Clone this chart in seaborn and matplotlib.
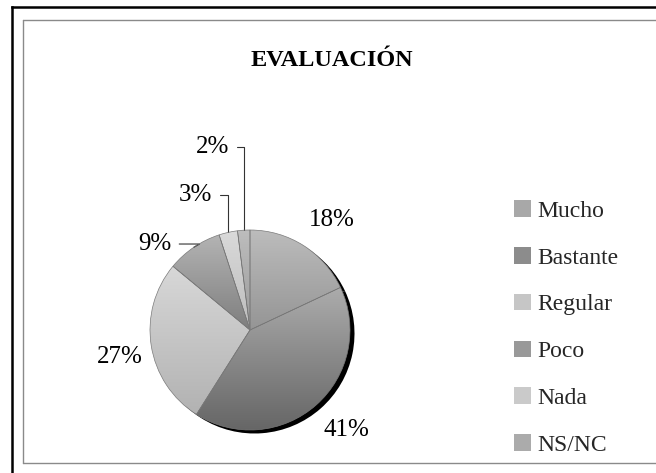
import numpy as np
import matplotlib
matplotlib.use("Agg")
import matplotlib.pyplot as plt
import seaborn as sns
from matplotlib.colors import LinearSegmentedColormap
from matplotlib.patches import Patch
from matplotlib.lines import Line2D

# ---- data ----
title = "EVALUACIÓN"
categories = ["Mucho", "Bastante", "Regular", "Poco", "Nada", "NS/NC"]
values = [18, 41, 27, 9, 3, 2]
pct_labels = ["18%", "41%", "27%", "9%", "3%", "2%"]

# ---- style ----
grad_light = ["#bcbcbc", "#acacac", "#d8d8d8", "#b4b4b4", "#dadada", "#bdbdbd"]
grad_dark = ["#959595", "#666666", "#b2b2b2", "#7e7e7e", "#bcbcbc", "#9a9a9a"]
legend_cols = ["#a8a8a8", "#8c8c8c", "#c6c6c6", "#999999", "#cacaca", "#ababab"]
label_r = [1.37, 1.39, 1.33, 1.28, 1.45, 1.87]
label_dang = [-4.3, 2.7, 2.7, 13.6, 9.3, 7.8]
leader = [False, False, False, True, True, True]

sns.set_theme(style="white")
plt.rcParams["font.family"] = ["Liberation Serif", "DejaVu Serif"]

W, H = 656, 473
fig = plt.figure(figsize=(W / 100, H / 100), dpi=100)
fig.patch.set_facecolor("white")


def px(x, y):
    return x / W, 1 - y / H


# borders: outer black (left + top), inner gray (left + top + bottom)
for (x0, y0), (x1, y1) in [((12, 480), (12, 7)), ((12, 7), (700, 7))]:
    (a, b), (c, d) = px(x0, y0), px(x1, y1)
    fig.add_artist(Line2D([a, c], [b, d], transform=fig.transFigure, color="black",
                          linewidth=1.8, solid_capstyle="projecting"))
for (x0, y0), (x1, y1) in [((23.5, 463), (23.5, 20)), ((23.5, 20), (700, 20)),
                           ((23.5, 463), (700, 463))]:
    (a, b), (c, d) = px(x0, y0), px(x1, y1)
    fig.add_artist(Line2D([a, c], [b, d], transform=fig.transFigure, color="#8a8a8a",
                          linewidth=1.0))

cx, cy, R = 250, 330, 100
ax = fig.add_axes([(cx - R) / W, (H - cy - R) / H, 2 * R / W, 2 * R / H])

# shadow
ax.pie(values, colors=["black"] * len(values), startangle=90, counterclock=False,
       center=(0.045, -0.035), radius=1.0, wedgeprops=dict(linewidth=0))

wedges, _ = ax.pie(values, startangle=90, counterclock=False, radius=1.0,
                   colors=legend_cols,
                   wedgeprops=dict(edgecolor="#7a7a7a", linewidth=0.5))

grad = np.linspace(0, 1, 256).reshape(-1, 1)
for w, cl, cd in zip(wedges, grad_light, grad_dark):
    ext = w.get_path().get_extents()
    cmap = LinearSegmentedColormap.from_list("g", [cl, cd])
    im = ax.imshow(grad, cmap=cmap, extent=[ext.x0, ext.x1, ext.y0, ext.y1],
                   origin="upper", aspect="auto", zorder=w.get_zorder() + 0.1,
                   interpolation="bilinear")
    im.set_clip_path(w)

for w in wedges:
    w.set_facecolor("none")
    w.set_zorder(5)

for w, lab, r, da, ld in zip(wedges, pct_labels, label_r, label_dang, leader):
    mid = np.deg2rad((w.theta1 + w.theta2) / 2)
    ang = mid + np.deg2rad(da)
    tx, ty = r * np.cos(ang), r * np.sin(ang)
    if ld:
        ex, ey = np.cos(mid), np.sin(mid)
        angB = 90 if lab != "9%" else 30
        ax.annotate(lab, xy=(ex, ey), xytext=(tx, ty), ha="center", va="center",
                    fontsize=18, color="black",
                    arrowprops=dict(arrowstyle="-", color="#333333", lw=0.8,
                                    shrinkA=3, shrinkB=0,
                                    connectionstyle=f"angle,angleA=0,angleB={angB},rad=0"))
    else:
        ax.text(tx, ty, lab, ha="center", va="center", fontsize=18, color="black")

ax.set_xlim(-1, 1)
ax.set_ylim(-1, 1)
ax.set_aspect("equal")
ax.axis("off")

fig.text(332 / W, 1 - 60 / H, title, ha="center", va="center", fontsize=17.5,
         fontweight="bold", color="black")

handles = [Patch(facecolor=c, edgecolor="none") for c in legend_cols]
fig.legend(handles, categories, loc="center left", bbox_to_anchor=(514 / W, 1 - 328 / H),
           frameon=False, fontsize=17, handlelength=0.7, handleheight=0.7,
           handletextpad=0.3, labelspacing=1.07, borderpad=0, borderaxespad=0)

fig.savefig("out.png", dpi=100)
